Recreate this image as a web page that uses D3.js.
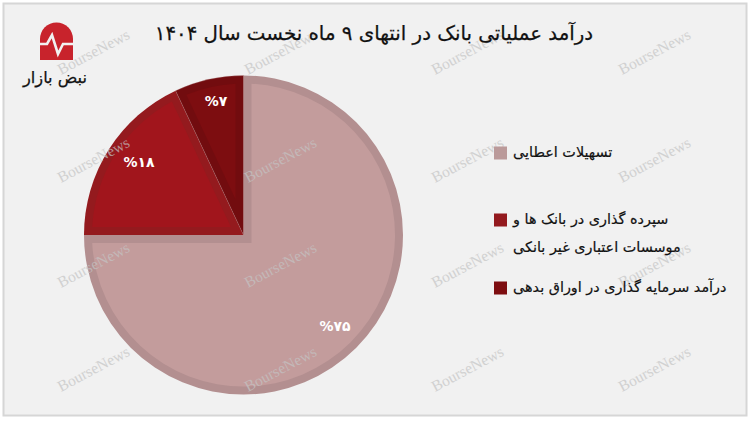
<!DOCTYPE html>
<html><head><meta charset="utf-8">
<script src="https://cdn.jsdelivr.net/npm/d3@7"></script>
<style>html,body{margin:0;padding:0;background:#fff;overflow:hidden}svg{display:block}text{font-family:"DejaVu Sans",sans-serif}</style>
</head><body><svg id="c" width="750" height="421"></svg>
<script>
const categories=["تسهیلات اعطایی","سپرده گذاری در بانک ها و موسسات اعتباری غیر بانکی","درآمد سرمایه گذاری در اوراق بدهی"];
const values=[75,18,7];
const valueLabels=["۷۵","۱۸","۷"];
const titleText="درآمد عملیاتی بانک در انتهای ۹ ماه نخست سال ۱۴۰۴";
const logoText="نبض بازار";
const fillColors=["#c39c9c","#a1151c","#7d0d10"];
const bevelColors=["#b38f90","#941a1e","#720c0f"];
const legendLines=[["تسهیلات اعطایی"],["سپرده گذاری در بانک ها و","موسسات اعتباری غیر بانکی"],["درآمد سرمایه گذاری در اوراق بدهی"]];
const watermark=[[61,75],[248,75],[435,75],[622,75],[61,183],[248,183],[435,183],[622,183],[61,288],[248,288],[435,288],[622,288],[61,392],[248,392],[435,392],[622,392]];

const svg=d3.select("#c");
svg.append("rect").attr("x",3.5).attr("y",3.5).attr("width",743).attr("height",412).attr("fill","#f1f1f1").attr("stroke","#d6d6d6").attr("stroke-width",2);

const cx=243.5,cy=235,R=159.5,inset=8;
const pie=d3.pie().sort(null)(values);
const arcOuter=d3.arc().innerRadius(0).outerRadius(R);
const g=svg.append("g").attr("transform",`translate(${cx},${cy})`);
g.selectAll("path.o").data(pie).join("path").attr("class","o").attr("d",arcOuter).attr("fill",(d,i)=>bevelColors[i]);

function insetFace(d){
  const r=R-inset,mid=(d.startAngle+d.endAngle)/2,half=(d.endAngle-d.startAngle)/2;
  const as=Math.asin(inset/r),a0=d.startAngle+as,a1=d.endAngle-as;
  const big=half>=Math.PI/2;
  const dist=big?inset*Math.SQRT2:inset/Math.sin(half);
  const ox=Math.sin(mid)*dist,oy=-Math.cos(mid)*dist;
  return `M${ox},${oy}L${Math.sin(a0)*r},${-Math.cos(a0)*r}A${r},${r} 0 ${big?1:0} 1 ${Math.sin(a1)*r},${-Math.cos(a1)*r}Z`;
}
g.selectAll("path.f").data(pie).join("path").attr("class","f").attr("d",insetFace).attr("fill",(d,i)=>fillColors[i]);

// pale hairline between the two dark slices
g.append("path").attr("d",arcOuter(pie[2])).attr("fill","none").attr("stroke","#b98a8a").attr("stroke-width",0.6).attr("stroke-opacity",.45);

svg.append("g").selectAll("text").data(watermark).join("text")
 .attr("transform",d=>`translate(${d[0]},${d[1]}) rotate(-28)`)
 .style("font-family","Liberation Serif").attr("font-size",15.5).attr("fill","#c4c4c4").attr("opacity",.7).text("BourseNews");

const labelPos=[[335,326],[139,162],[216,101]];
svg.append("g").selectAll("text").data(valueLabels).join("text")
 .attr("x",(d,i)=>labelPos[i][0]).attr("y",(d,i)=>labelPos[i][1]+5)
 .attr("text-anchor","middle").attr("fill","#fff").attr("font-size",14).attr("font-weight","bold")
 .attr("direction","ltr").style("unicode-bidi","bidi-override").text(d=>"%"+d);

svg.append("text").attr("x",374).attr("y",40).attr("text-anchor","middle").attr("direction","rtl").attr("font-size",19.8).attr("fill","#111").attr("stroke","#111").attr("stroke-width",.25).text(titleText);

const swY=[153,220,288];
const lineY=[[157],[224,252],[292]];
const lg=svg.append("g");
categories.forEach((c,i)=>{
  lg.append("rect").attr("x",494).attr("y",swY[i]-6.5).attr("width",13).attr("height",13).attr("fill",i==0?"#bb9a9a":i==1?"#931a1e":fillColors[i]);
  legendLines[i].forEach((t,j)=>lg.append("text").attr("x",513).attr("y",lineY[i][j]).attr("direction","rtl").style("text-anchor","end").attr("font-size",14.4).attr("fill","#111").attr("stroke","#111").attr("stroke-width",.2).text(t));
});

const logo=svg.append("g");
logo.append("path").attr("fill","#c8232c").attr("d","M40,60V39A16.5,16.5 0 0 1 73,39V60Z");
logo.append("path").attr("fill","none").attr("stroke","#f1f1f1").attr("stroke-width",2.6).attr("d","M38,44H47L52,35L58,54L63,44H75");
logo.append("text").attr("x",55).attr("y",83).attr("text-anchor","middle").attr("direction","rtl").attr("font-size",16.2).attr("fill","#111").attr("stroke","#111").attr("stroke-width",.25).text(logoText);
</script></body></html>
